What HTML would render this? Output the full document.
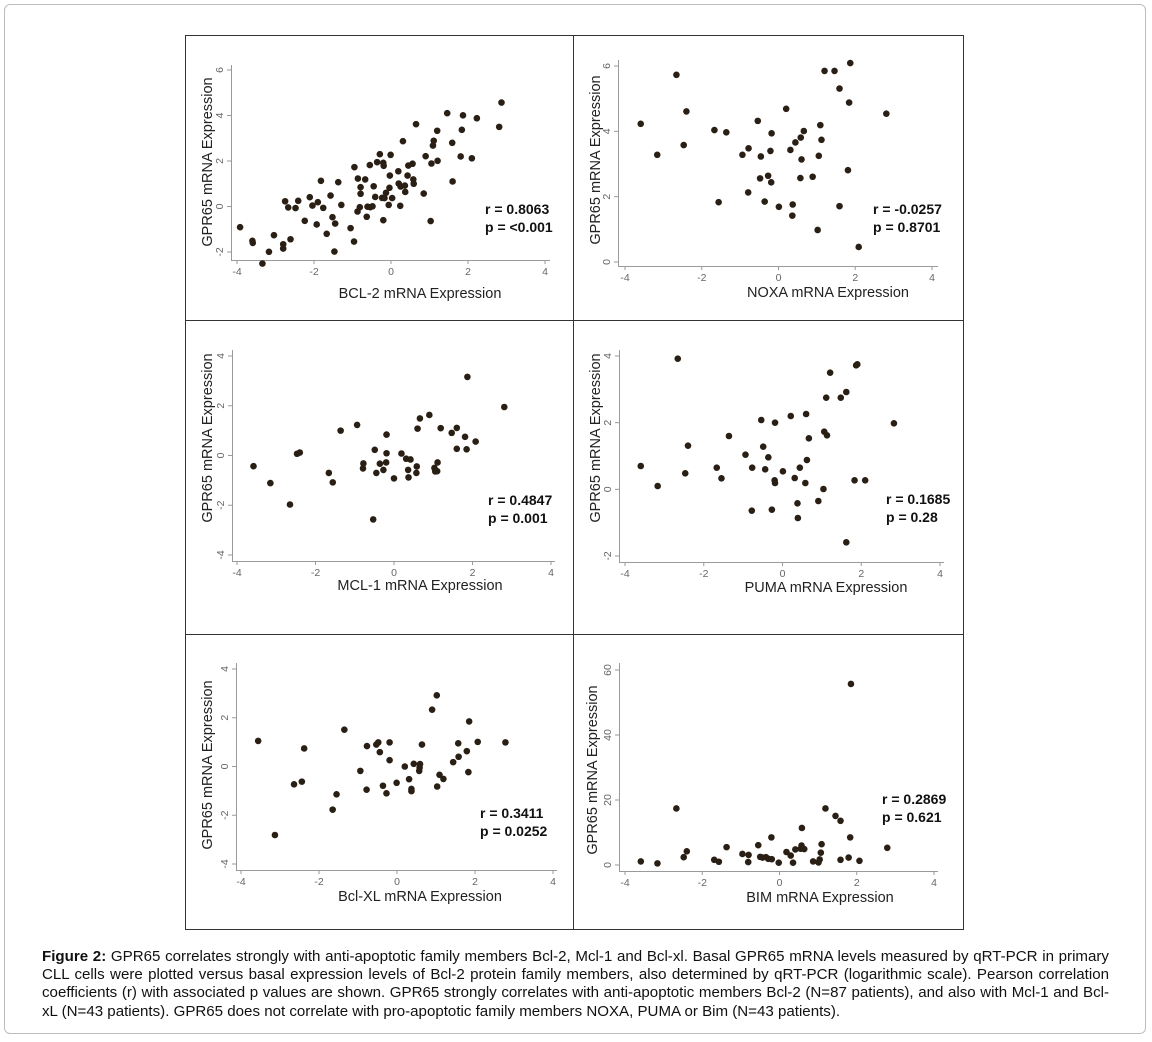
<!DOCTYPE html>
<html><head><meta charset="utf-8"><style>
html,body{margin:0;padding:0;background:#fff;}
body{width:1152px;height:1042px;position:relative;overflow:hidden;font-family:"Liberation Sans",Arial,sans-serif;}
#frame{position:absolute;left:4px;top:4px;width:1142px;height:1030px;border:1px solid #bdbdbd;border-radius:6px;box-sizing:border-box;}
#caption{position:absolute;left:42px;top:948px;width:1067px;font-size:15.1px;line-height:18.2px;color:#111;}
#caption span{display:block;white-space:nowrap;text-align:justify;text-align-last:justify;}
#caption span.last{text-align-last:left;}
svg{position:absolute;left:0;top:0;}
</style></head><body>
<div id="frame"></div>
<svg id="fig" width="1152" height="1042"></svg>
<div id="caption"><span><b>Figure 2:</b> GPR65 correlates strongly with anti-apoptotic family members Bcl-2, Mcl-1 and Bcl-xl. Basal GPR65 mRNA levels measured by qRT-PCR in primary</span><span>CLL cells were plotted versus basal expression levels of Bcl-2 protein family members, also determined by qRT-PCR (logarithmic scale). Pearson correlation</span><span>coefficients (r) with associated p values are shown. GPR65 strongly correlates with anti-apoptotic members Bcl-2 (N=87 patients), and also with Mcl-1 and Bcl-</span><span class="last">xL (N=43 patients). GPR65 does not correlate with pro-apoptotic family members NOXA, PUMA or Bim (N=43 patients).</span></div>
<script>
const bcl2X=[-3.92,-3.60,-3.59,-3.34,-3.17,-3.04,-2.80,-2.80,-2.75,-2.67,-2.61,-2.48,-2.41,-2.24,-2.11,-2.04,-1.93,-1.90,-1.82,-1.76,-1.67,-1.57,-1.52,-1.47,-1.45,-1.37,-1.29,-1.05,-0.96,-0.95,-0.86,-0.87,-0.81,-0.79,-0.79,-0.67,-0.63,-0.61,-0.54,-0.48,-0.45,-0.55,-0.41,-0.36,-0.29,-0.20,-0.20,-0.19,-0.23,-0.17,-0.13,-0.06,-0.04,-0.03,-0.01,0.03,0.19,0.20,0.24,0.25,0.31,0.36,0.37,0.43,0.45,0.56,0.58,0.59,0.65,0.85,0.90,1.03,1.05,1.09,1.11,1.20,1.21,1.46,1.59,1.60,1.81,1.84,1.87,2.10,2.23,2.81,2.87];
const bcl2Y=[-0.91,-1.51,-1.60,-2.51,-1.99,-1.26,-1.66,-1.85,0.23,-0.04,-1.44,-0.07,0.25,-0.63,0.41,0.04,-0.79,0.19,1.13,-0.06,-1.20,0.48,-0.47,-1.98,-0.75,1.07,0.07,-0.95,-1.54,1.73,1.23,-0.22,-0.03,0.85,0.56,1.19,-0.45,-0.01,-0.03,0.01,0.89,1.82,0.42,1.95,2.30,-0.60,1.92,1.79,0.38,0.37,0.60,0.07,0.82,1.36,2.27,0.37,1.55,1.01,0.03,0.88,2.87,0.92,0.64,1.36,1.80,1.88,1.19,1.00,3.62,0.57,2.21,-0.64,1.89,2.68,2.89,3.33,2.01,4.10,2.80,1.10,2.20,3.37,4.01,2.12,3.88,3.50,4.57];
const noxaX=[-3.59,-3.16,-2.66,-2.40,-2.47,-1.67,-1.36,-1.56,-0.94,-0.78,-0.79,-0.54,-0.46,-0.48,-0.36,-0.27,-0.21,-0.19,-0.18,0.01,0.20,0.31,0.37,0.36,0.44,0.58,0.60,0.57,0.66,0.89,1.02,1.05,1.09,1.12,1.20,1.46,1.59,1.59,1.81,1.84,1.87,2.09,2.81];
const noxaY=[4.23,3.28,5.73,4.61,3.58,4.04,3.97,1.83,3.28,3.48,2.13,4.32,3.23,2.56,1.85,2.64,3.40,2.44,3.94,1.69,4.69,3.43,1.76,1.42,3.66,3.81,3.14,2.57,4.01,2.61,0.98,3.25,4.19,3.74,5.85,5.85,5.31,1.71,2.81,4.88,6.09,0.46,4.54];
const mclX=[-3.58,-3.15,-2.65,-2.47,-2.40,-1.66,-1.56,-1.36,-0.94,-0.78,-0.79,-0.49,-0.45,-0.53,-0.36,-0.27,-0.20,-0.19,-0.19,0.00,0.19,0.31,0.42,0.36,0.37,0.58,0.57,0.60,0.66,0.90,1.03,1.05,1.10,1.11,1.19,1.47,1.60,1.60,1.81,1.85,1.87,2.08,2.81];
const mclY=[-0.43,-1.11,-1.97,0.07,0.12,-0.70,-1.08,1.00,1.23,-0.32,-0.52,0.23,-0.70,-2.57,-0.33,-0.58,-0.28,0.09,0.84,-0.92,0.08,-0.13,-0.16,-0.58,-0.88,-0.44,-0.70,1.08,1.49,1.63,-0.50,-0.64,-0.63,-0.28,1.10,0.91,1.11,0.27,0.75,0.25,3.16,0.56,1.95];
const pumaX=[-3.60,-3.17,-2.66,-2.47,-2.40,-1.67,-1.55,-1.36,-0.94,-0.77,-0.78,-0.54,-0.49,-0.44,-0.36,-0.27,-0.20,-0.19,-0.19,0.01,0.21,0.31,0.38,0.39,0.44,0.58,0.60,0.62,0.67,0.91,1.04,1.06,1.13,1.11,1.21,1.48,1.62,1.62,1.83,1.87,1.90,2.10,2.83];
const pumaY=[0.70,0.10,3.92,0.48,1.31,0.65,0.33,1.60,1.04,0.65,-0.64,2.08,1.28,0.60,0.96,-0.61,0.27,0.19,2.00,0.54,2.20,0.34,-0.42,-0.86,0.65,0.19,2.26,0.88,1.53,-0.35,0.01,1.73,1.62,2.75,3.50,2.75,2.92,-1.59,0.27,3.72,3.75,0.27,1.98];
const bclxlX=[-3.56,-3.13,-2.64,-2.44,-2.38,-1.65,-1.55,-1.35,-0.94,-0.77,-0.78,-0.53,-0.48,-0.44,-0.36,-0.27,-0.19,-0.19,-0.01,0.20,0.31,0.43,0.37,0.37,0.57,0.59,0.58,0.64,0.90,1.02,1.03,1.09,1.19,1.44,1.57,1.58,1.79,1.83,1.85,2.07,2.78];
const bclxlY=[1.05,-2.81,-0.73,-0.62,0.74,-1.77,-1.14,1.51,-0.18,0.84,-0.95,0.90,0.99,0.59,-0.79,-1.10,0.99,0.26,-0.67,0.00,-0.52,0.11,-0.92,-1.01,-0.18,0.10,-0.04,0.90,2.33,2.92,-0.82,-0.34,-0.51,0.18,0.95,0.40,0.63,-0.23,1.85,1.01,0.99];
const bimX=[-3.59,-3.16,-2.67,-2.48,-2.40,-1.69,-1.57,-1.37,-0.96,-0.80,-0.81,-0.55,-0.50,-0.44,-0.35,-0.29,-0.20,-0.21,-0.02,0.18,0.29,0.35,0.41,0.57,0.58,0.55,0.64,0.87,1.01,1.04,1.07,1.09,1.19,1.45,1.58,1.58,1.79,1.83,1.85,2.07,2.79];
const bimY=[1.1,0.5,17.4,2.4,4.2,1.6,1.0,5.5,3.4,3.1,0.9,6.1,2.5,2.3,2.4,1.9,1.8,8.5,0.7,4.0,2.9,0.7,4.8,6.0,11.4,5.0,4.9,1.1,0.8,1.7,3.8,6.4,17.4,15.1,13.6,1.6,2.3,8.5,55.7,1.3,5.3];
const xTicks=[-4,-2,0,2,4];
const yTicks1=[-2,0,2,4,6];
const yTicks2=[0,2,4,6];
const yTicks3=[-4,-2,0,2,4];
const yTicks4=[-2,0,2,4];
const yTicks5=[-4,-2,0,2,4];
const yTicks6=[0,20,40,60];
const stats=[["r = 0.8063","p = <0.001"],["r = -0.0257","p = 0.8701"],["r = 0.4847","p = 0.001"],["r = 0.1685","p = 0.28"],["r = 0.3411","p = 0.0252"],["r = 0.2869","p = 0.621"]];
const xTitles=["BCL-2 mRNA Expression","NOXA mRNA Expression","MCL-1 mRNA Expression","PUMA mRNA Expression","Bcl-XL mRNA Expression","BIM mRNA Expression"];

const NS="http://www.w3.org/2000/svg";
const svg=document.getElementById('fig');
function mk(tag,attrs,parent){const e=document.createElementNS(NS,tag);for(const k in attrs)e.setAttribute(k,attrs[k]);(parent||svg).appendChild(e);return e;}

const box=mk('g',{stroke:'#333','stroke-width':1,fill:'none'});


mk('rect',{x:185.5,y:35.5,width:778,height:894},box);
mk('line',{x1:573.5,y1:35,x2:573.5,y2:929},box);
mk('line',{x1:185,y1:320.5,x2:963,y2:320.5},box);
mk('line',{x1:185,y1:634.5,x2:963,y2:634.5},box);

const panels=[
 {xs:bcl2X,ys:bcl2Y,yt:yTicks1,ax:231,ay:260,xa:[-4,237,4,545],ya:[-2,252,6,70],yTop:65,xEnd:550,xtY:298,xtX:420,ylX:207,ylY:162,sx:485,sy:214},
 {xs:noxaX,ys:noxaY,yt:yTicks2,ax:618,ay:266,xa:[-4,625,4,932],ya:[0,262,6,66],yTop:60,xEnd:938,xtY:297,xtX:828,ylX:595,ylY:160,sx:873,sy:214},
 {xs:mclX,ys:mclY,yt:yTicks3,ax:232,ay:561,xa:[-4,237,4,551],ya:[-4,555,4,356],yTop:350,xEnd:555,xtY:590,xtX:420,ylX:207,ylY:438,sx:488,sy:505},
 {xs:pumaX,ys:pumaY,yt:yTicks4,ax:619,ay:562,xa:[-4,625,4,940],ya:[-2,556,4,356],yTop:350,xEnd:944,xtY:592,xtX:826,ylX:595,ylY:438,sx:886,sy:504},
 {xs:bclxlX,ys:bclxlY,yt:yTicks5,ax:236,ay:870,xa:[-4,241,4,553],ya:[-4,864,4,669],yTop:663,xEnd:557,xtY:901,xtX:420,ylX:207,ylY:765,sx:480,sy:818},
 {xs:bimX,ys:bimY,yt:yTicks6,ax:619,ay:871,xa:[-4,625,4,934],ya:[0,865,60,670],yTop:663,xEnd:938,xtY:902,xtX:820,ylX:592,ylY:770,sx:882,sy:804}
];

panels.forEach((p,i)=>{
 const g=mk('g',{});
 
 
 const X=v=>p.xa[1]+(v-p.xa[0])*(p.xa[3]-p.xa[1])/(p.xa[2]-p.xa[0]);
 const Y=v=>p.ya[1]+(v-p.ya[0])*(p.ya[3]-p.ya[1])/(p.ya[2]-p.ya[0]);
 const axes=mk('g',{stroke:'#9a9a9a','stroke-width':1},g);
 
 
 mk('line',{x1:p.ax+.5,y1:p.yTop,x2:p.ax+.5,y2:p.ay},axes);
 mk('line',{x1:p.ax,y1:p.ay+.5,x2:p.xEnd,y2:p.ay+.5},axes);
 xTicks.forEach(t=>{
  mk('line',{x1:X(t),y1:p.ay,x2:X(t),y2:p.ay+4},axes);
  const tx=mk('text',{x:X(t),y:p.ay+15,'font-size':10.5,fill:'#666','text-anchor':'middle'},g);
  tx.textContent=String(t);
  
  
 });
 p.yt.forEach(t=>{
  mk('line',{x1:p.ax-4,y1:Y(t),x2:p.ax,y2:Y(t)},axes);
  const tx=mk('text',{x:0,y:0,'font-size':10.5,fill:'#666','text-anchor':'middle',transform:`translate(${p.ax-8},${Y(t)}) rotate(-90)`},g);
  tx.textContent=String(t);
  
  
 });
 const xt=mk('text',{x:p.xtX,y:p.xtY,'font-size':14.5,fill:'#222','text-anchor':'middle'},g);
 xt.textContent=xTitles[i];
 
 
 const yl=mk('text',{x:0,y:0,'font-size':14.5,fill:'#222','text-anchor':'middle',transform:`translate(${p.ylX+5},${p.ylY}) rotate(-90)`},g);
 yl.textContent='GPR65 mRNA Expression';
 
 
 const dots=mk('g',{fill:'#2a1f14'},g);
 
 
 p.xs.forEach((v,k)=>{
  const c=mk('circle',{cx:X(v),cy:Y(p.ys[k]),r:3.3},dots);
  
  
 });
 stats[i].forEach((s,k)=>{
  const t=mk('text',{x:p.sx,y:p.sy+k*18,'font-size':14,'font-weight':'bold',fill:'#111'},g);
  t.textContent=s;
  
  
 });
});
</script>
</body></html>
